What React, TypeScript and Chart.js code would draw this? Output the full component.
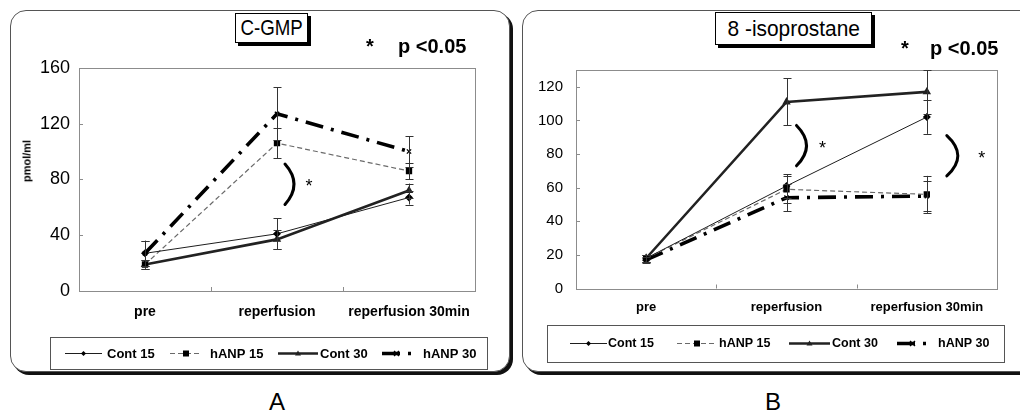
import React, { useEffect, useRef } from "react";
import { Chart, registerables } from "chart.js";

Chart.register(...registerables);

const FONT = "'Liberation Sans', Arial, Helvetica, sans-serif";
Chart.defaults.font.family = FONT;

// ---------- data ----------
const categories = ["pre", "reperfusion", "reperfusion 30min"];
const seriesNames = ["Cont 15", "hANP 15", "Cont 30", "hANP 30"];

// Panel A: C-GMP (pmol/ml)
const cgmpCont15 = [27, 41, 67];
const cgmpHanp15 = [19, 106, 86];
const cgmpCont30 = [19, 37, 72];
const cgmpHanp30 = [27, 127, 100];
const cgmpCont15Err = [9, 11, 5];
const cgmpHanp15Err = [3, 11, 6];
const cgmpCont30Err = [3, 7, 5];
const cgmpHanp30Err = [9, 19, 11];
const cgmpTicks = [0, 40, 80, 120, 160];
const cgmpMax = 160;
// significance brackets: [category index, from value, to value]
const cgmpBrackets = [[1, 91, 62]];

// Panel B: 8-isoprostane
const isoCont15 = [18, 61, 102];
const isoHanp15 = [18, 59, 56];
const isoCont30 = [18, 111, 117];
const isoHanp30 = [17, 54, 55];
const isoCont15Err = [2, 7, 10];
const isoHanp15Err = [2, 8, 11];
const isoCont30Err = [2, 14, 13];
const isoHanp30Err = [2, 8, 9];
const isoTicks = [0, 20, 40, 60, 80, 100, 120];
const isoMax = 130;
const isoBrackets = [[1, 97, 73], [2, 91, 67]];

// ---------- styles ----------
const seriesStyles = [
  { color: "#1e1e1e", width: 1, dash: [] as number[], point: "rectRot", radius: 3, pointColor: "#000" },
  { color: "#6a6a6a", width: 1.2, dash: [5, 3], point: "rect", radius: 3.5, pointColor: "#000" },
  { color: "#222", width: 2.6, dash: [] as number[], point: "triangle", radius: 3.5, pointColor: "#222" },
  { color: "#000", width: 3.6, dash: [18, 8, 3, 8], point: "crossRot", radius: 3, pointColor: "#000" },
];

function drawMarker(ctx: CanvasRenderingContext2D, style: string, x: number, y: number, r: number, color: string) {
  ctx.save();
  ctx.setLineDash([]);
  ctx.fillStyle = color;
  ctx.strokeStyle = color;
  ctx.lineWidth = 1.4;
  ctx.beginPath();
  if (style === "rectRot") {
    ctx.moveTo(x, y - r); ctx.lineTo(x + r, y); ctx.lineTo(x, y + r); ctx.lineTo(x - r, y); ctx.closePath(); ctx.fill();
  } else if (style === "rect") {
    ctx.rect(x - r, y - r, 2 * r, 2 * r); ctx.fill();
  } else if (style === "triangle") {
    ctx.moveTo(x, y - r); ctx.lineTo(x + r, y + r * 0.7); ctx.lineTo(x - r, y + r * 0.7); ctx.closePath(); ctx.fill();
  } else {
    ctx.moveTo(x - r, y - r); ctx.lineTo(x + r, y + r); ctx.moveTo(x + r, y - r); ctx.lineTo(x - r, y + r); ctx.stroke();
  }
  ctx.restore();
}

const decorPlugin = {
  id: "decor",
  beforeDatasetsDraw(chart: any, _a: any, opts: any) {
    const { ctx, chartArea: a, scales } = chart;
    ctx.save();
    ctx.strokeStyle = "#8c8c8c";
    ctx.lineWidth = 1;
    ctx.strokeRect(Math.round(a.left) + 0.5, Math.round(a.top) + 0.5, Math.round(a.right - a.left), Math.round(a.bottom - a.top));
    ctx.beginPath();
    const ys = scales.y;
    ys.ticks.forEach((t: any) => {
      const p = Math.round(ys.getPixelForValue(t.value)) + 0.5;
      ctx.moveTo(a.left, p);
      ctx.lineTo(a.left + 4, p);
    });
    const xs = scales.x;
    for (let i = 0; i < categories.length - 1; i++) {
      const p = Math.round((xs.getPixelForValue(i) + xs.getPixelForValue(i + 1)) / 2) + 0.5;
      ctx.moveTo(p, a.bottom);
      ctx.lineTo(p, a.bottom - 4);
    }
    ctx.stroke();
    ctx.restore();
  },
  afterDatasetsDraw(chart: any, _a: any, opts: any) {
    const { ctx, chartArea: a, scales } = chart;
    const ys = scales.y;
    const xs = scales.x;
    // error bars
    ctx.save();
    ctx.beginPath();
    ctx.rect(a.left, a.top - 1, a.right - a.left, a.bottom - a.top + 1);
    ctx.clip();
    ctx.strokeStyle = "#333";
    ctx.lineWidth = 1;
    chart.data.datasets.forEach((ds: any, i: number) => {
      const meta = chart.getDatasetMeta(i);
      meta.data.forEach((pt: any, j: number) => {
        const v = ds.data[j];
        const e = ds.errors[j];
        const x = Math.round(pt.x) + 0.5;
        const y1 = ys.getPixelForValue(v + e);
        const y2 = ys.getPixelForValue(v - e);
        ctx.beginPath();
        ctx.moveTo(x, y1); ctx.lineTo(x, y2);
        ctx.moveTo(x - 4, Math.round(y1) + 0.5); ctx.lineTo(x + 4, Math.round(y1) + 0.5);
        ctx.moveTo(x - 4, Math.round(y2) + 0.5); ctx.lineTo(x + 4, Math.round(y2) + 0.5);
        ctx.stroke();
      });
    });
    ctx.restore();
    // significance brackets
    ctx.save();
    ctx.strokeStyle = "#000";
    ctx.fillStyle = "#000";
    ctx.lineWidth = 3;
    ctx.lineCap = "round";
    (opts.brackets || []).forEach((b: number[], k: number) => {
      const off = opts.bracketOffsets[k];
      const x0 = xs.getPixelForValue(b[0]) + off[0];
      const yA = ys.getPixelForValue(b[1]);
      const yB = ys.getPixelForValue(b[2]);
      const ym = (yA + yB) / 2;
      ctx.beginPath();
      ctx.moveTo(x0, yA);
      ctx.quadraticCurveTo(x0 + off[1] * 2, ym, x0, yB);
      ctx.stroke();
      ctx.font = `18px ${FONT}`;
      ctx.textAlign = "center";
      ctx.textBaseline = "middle";
      ctx.fillText("*", x0 + off[2], ym + 3);
    });
    ctx.restore();
  },
  afterDraw(chart: any, _a: any, opts: any) {
    const { ctx } = chart;
    const L = opts.legend;
    if (!L) return;
    ctx.save();
    ctx.strokeStyle = "#555";
    ctx.lineWidth = 1;
    ctx.strokeRect(L.box[0] + 0.5, L.box[1] + 0.5, L.box[2], L.box[3]);
    const cy = L.cy;
    chart.data.datasets.forEach((ds: any, k: number) => {
      const it = L.items[k];
      const st = seriesStyles[k];
      ctx.save();
      ctx.strokeStyle = st.color;
      ctx.lineWidth = st.width;
      ctx.setLineDash(st.dash);
      ctx.beginPath();
      ctx.moveTo(it[0], cy + 0.5);
      ctx.lineTo(it[1], cy + 0.5);
      ctx.stroke();
      ctx.restore();
      drawMarker(ctx, st.point, (it[0] + it[1]) / 2, cy + 0.5, st.radius - 0.5, st.pointColor);
      ctx.fillStyle = "#000";
      ctx.font = `bold ${L.font}px ${FONT}`;
      ctx.textAlign = "left";
      ctx.textBaseline = "middle";
      ctx.fillText(seriesNames[k], it[2], cy + 1);
    });
    ctx.restore();
  },
};

type PanelCfg = {
  values: number[][];
  errors: number[][];
  ticks: number[];
  max: number;
  brackets: number[][];
  bracketOffsets: number[][];
  pad: { top: number; right: number; bottom: number };
  yWidth: number;
  tickFont: number;
  tickPad: number;
  catFont: number;
  catPad: number;
  legend: any;
};

function makeConfig(p: PanelCfg): any {
  return {
    type: "line",
    data: {
      labels: categories,
      datasets: p.values.map((vals, k) => {
        const st = seriesStyles[k];
        return {
          label: seriesNames[k],
          data: vals,
          errors: p.errors[k],
          borderColor: st.color,
          borderWidth: st.width,
          borderDash: st.dash,
          pointStyle: st.point,
          pointRadius: st.radius,
          pointBackgroundColor: st.pointColor,
          pointBorderColor: st.pointColor,
          pointBorderWidth: 1.4,
          tension: 0,
          fill: false,
        };
      }),
    },
    options: {
      responsive: false,
      animation: false,
      events: [],
      layout: { padding: { left: 0, top: p.pad.top, right: p.pad.right, bottom: p.pad.bottom } },
      plugins: {
        legend: { display: false },
        tooltip: { enabled: false },
        decor: { brackets: p.brackets, bracketOffsets: p.bracketOffsets, legend: p.legend },
      },
      scales: {
        x: {
          type: "category",
          offset: true,
          grid: { display: false, drawTicks: false },
          border: { display: false },
          ticks: { font: { size: p.catFont, weight: "bold" }, color: "#000", padding: p.catPad, maxRotation: 0, autoSkip: false },
          afterFit: (s: any) => { s.height = 30; },
        },
        y: {
          min: 0,
          max: p.max,
          grid: { display: false, drawTicks: false },
          border: { display: false },
          ticks: { font: { size: p.tickFont }, color: "#000", padding: p.tickPad },
          afterBuildTicks: (s: any) => { s.ticks = p.ticks.map((v) => ({ value: v })); },
          afterFit: (s: any) => { s.width = p.yWidth; },
        },
      },
    },
    plugins: [decorPlugin],
  };
}

const panelA: PanelCfg = {
  values: [cgmpCont15, cgmpHanp15, cgmpCont30, cgmpHanp30],
  errors: [cgmpCont15Err, cgmpHanp15Err, cgmpCont30Err, cgmpHanp30Err],
  ticks: cgmpTicks,
  max: cgmpMax,
  brackets: cgmpBrackets,
  bracketOffsets: [[8, 9, 24]],
  pad: { top: 14, right: 30, bottom: 54 },
  yWidth: 69,
  tickFont: 18,
  tickPad: 9,
  catFont: 14,
  catPad: 13,
  legend: {
    box: [40, 289, 437, 32],
    cy: 305,
    font: 13,
    items: [[55, 92, 97], [160, 192, 200], [268, 308, 310], [372, 401, 413]],
  },
};

const panelB: PanelCfg = {
  values: [isoCont15, isoHanp15, isoCont30, isoHanp30],
  errors: [isoCont15Err, isoHanp15Err, isoCont30Err, isoHanp30Err],
  ticks: isoTicks,
  max: isoMax,
  brackets: isoBrackets,
  bracketOffsets: [[10, 10, 26], [20, 11, 35]],
  pad: { top: 19, right: 18, bottom: 56.5 },
  yWidth: 56,
  tickFont: 15,
  tickPad: 13,
  catFont: 13,
  catPad: 11,
  legend: {
    box: [27, 277, 457, 37],
    cy: 295,
    font: 12.5,
    items: [[50, 87, 88], [157, 197, 199], [269, 310, 312], [377, 408, 418]],
  },
};

const frameStyle = (left: number, width: number): React.CSSProperties => ({
  position: "absolute",
  left,
  top: 10,
  width,
  height: 362,
  boxSizing: "border-box",
  border: "1px solid #555",
  borderRadius: 16,
  boxShadow: "3px 3px 0 #111",
  background: "#fff",
});

const titleStyle = (left: number, top: number, width: number, height: number): React.CSSProperties => ({
  position: "absolute",
  left,
  top,
  width,
  height,
  boxSizing: "border-box",
  border: "1px solid #000",
  boxShadow: "3px 3px 0 #000",
  background: "#fff",
  display: "flex",
  alignItems: "center",
  justifyContent: "center",
  fontFamily: FONT,
  fontSize: 22,
  color: "#000",
  whiteSpace: "nowrap",
});

const textAbs = (left: number, top: number, size: number, bold = false): React.CSSProperties => ({
  position: "absolute",
  left,
  top,
  fontFamily: FONT,
  fontSize: size,
  fontWeight: bold ? "bold" : "normal",
  color: "#000",
  lineHeight: 1,
  whiteSpace: "nowrap",
});

export default function App() {
  const refA = useRef<HTMLCanvasElement>(null);
  const refB = useRef<HTMLCanvasElement>(null);

  useEffect(() => {
    const cA = new Chart(refA.current as HTMLCanvasElement, makeConfig(panelA));
    const cB = new Chart(refB.current as HTMLCanvasElement, makeConfig(panelB));
    return () => {
      cA.destroy();
      cB.destroy();
    };
  }, []);

  return (
    <div style={{ position: "absolute", left: 0, top: 0, width: 1020, height: 412, overflow: "hidden", background: "#fff" }}>
      <div style={frameStyle(10, 500)} />
      <div style={frameStyle(522, 520)} />
      <canvas ref={refA} width={495} height={327} style={{ position: "absolute", left: 10, top: 48, width: 495, height: 327 }} />
      <canvas ref={refB} width={495} height={327} style={{ position: "absolute", left: 520, top: 48, width: 495, height: 327 }} />

      <div style={titleStyle(235, 13, 73, 30)}>
        <span style={{ display: "inline-block", transform: "scaleX(0.85)" }}>C-GMP</span>
      </div>
      <div style={titleStyle(715, 12, 157, 33)}>
        <span style={{ display: "inline-block", transform: "scaleX(0.95)" }}>8 -isoprostane</span>
      </div>

      <div style={textAbs(366, 36, 20, true)}>*</div>
      <div style={textAbs(398, 36, 20, true)}>p &lt;0.05</div>
      <div style={textAbs(901, 38, 20, true)}>*</div>
      <div style={textAbs(930, 38, 20, true)}>p &lt;0.05</div>

      <div
        style={{
          ...textAbs(27, 161, 11, true),
          transform: "translate(-50%, -50%) rotate(-90deg)",
        }}
      >
        pmol/ml
      </div>

      <div style={{ ...textAbs(277, 402, 24), transform: "translate(-50%, -50%)" }}>A</div>
      <div style={{ ...textAbs(773, 402, 24), transform: "translate(-50%, -50%)" }}>B</div>
    </div>
  );
}
